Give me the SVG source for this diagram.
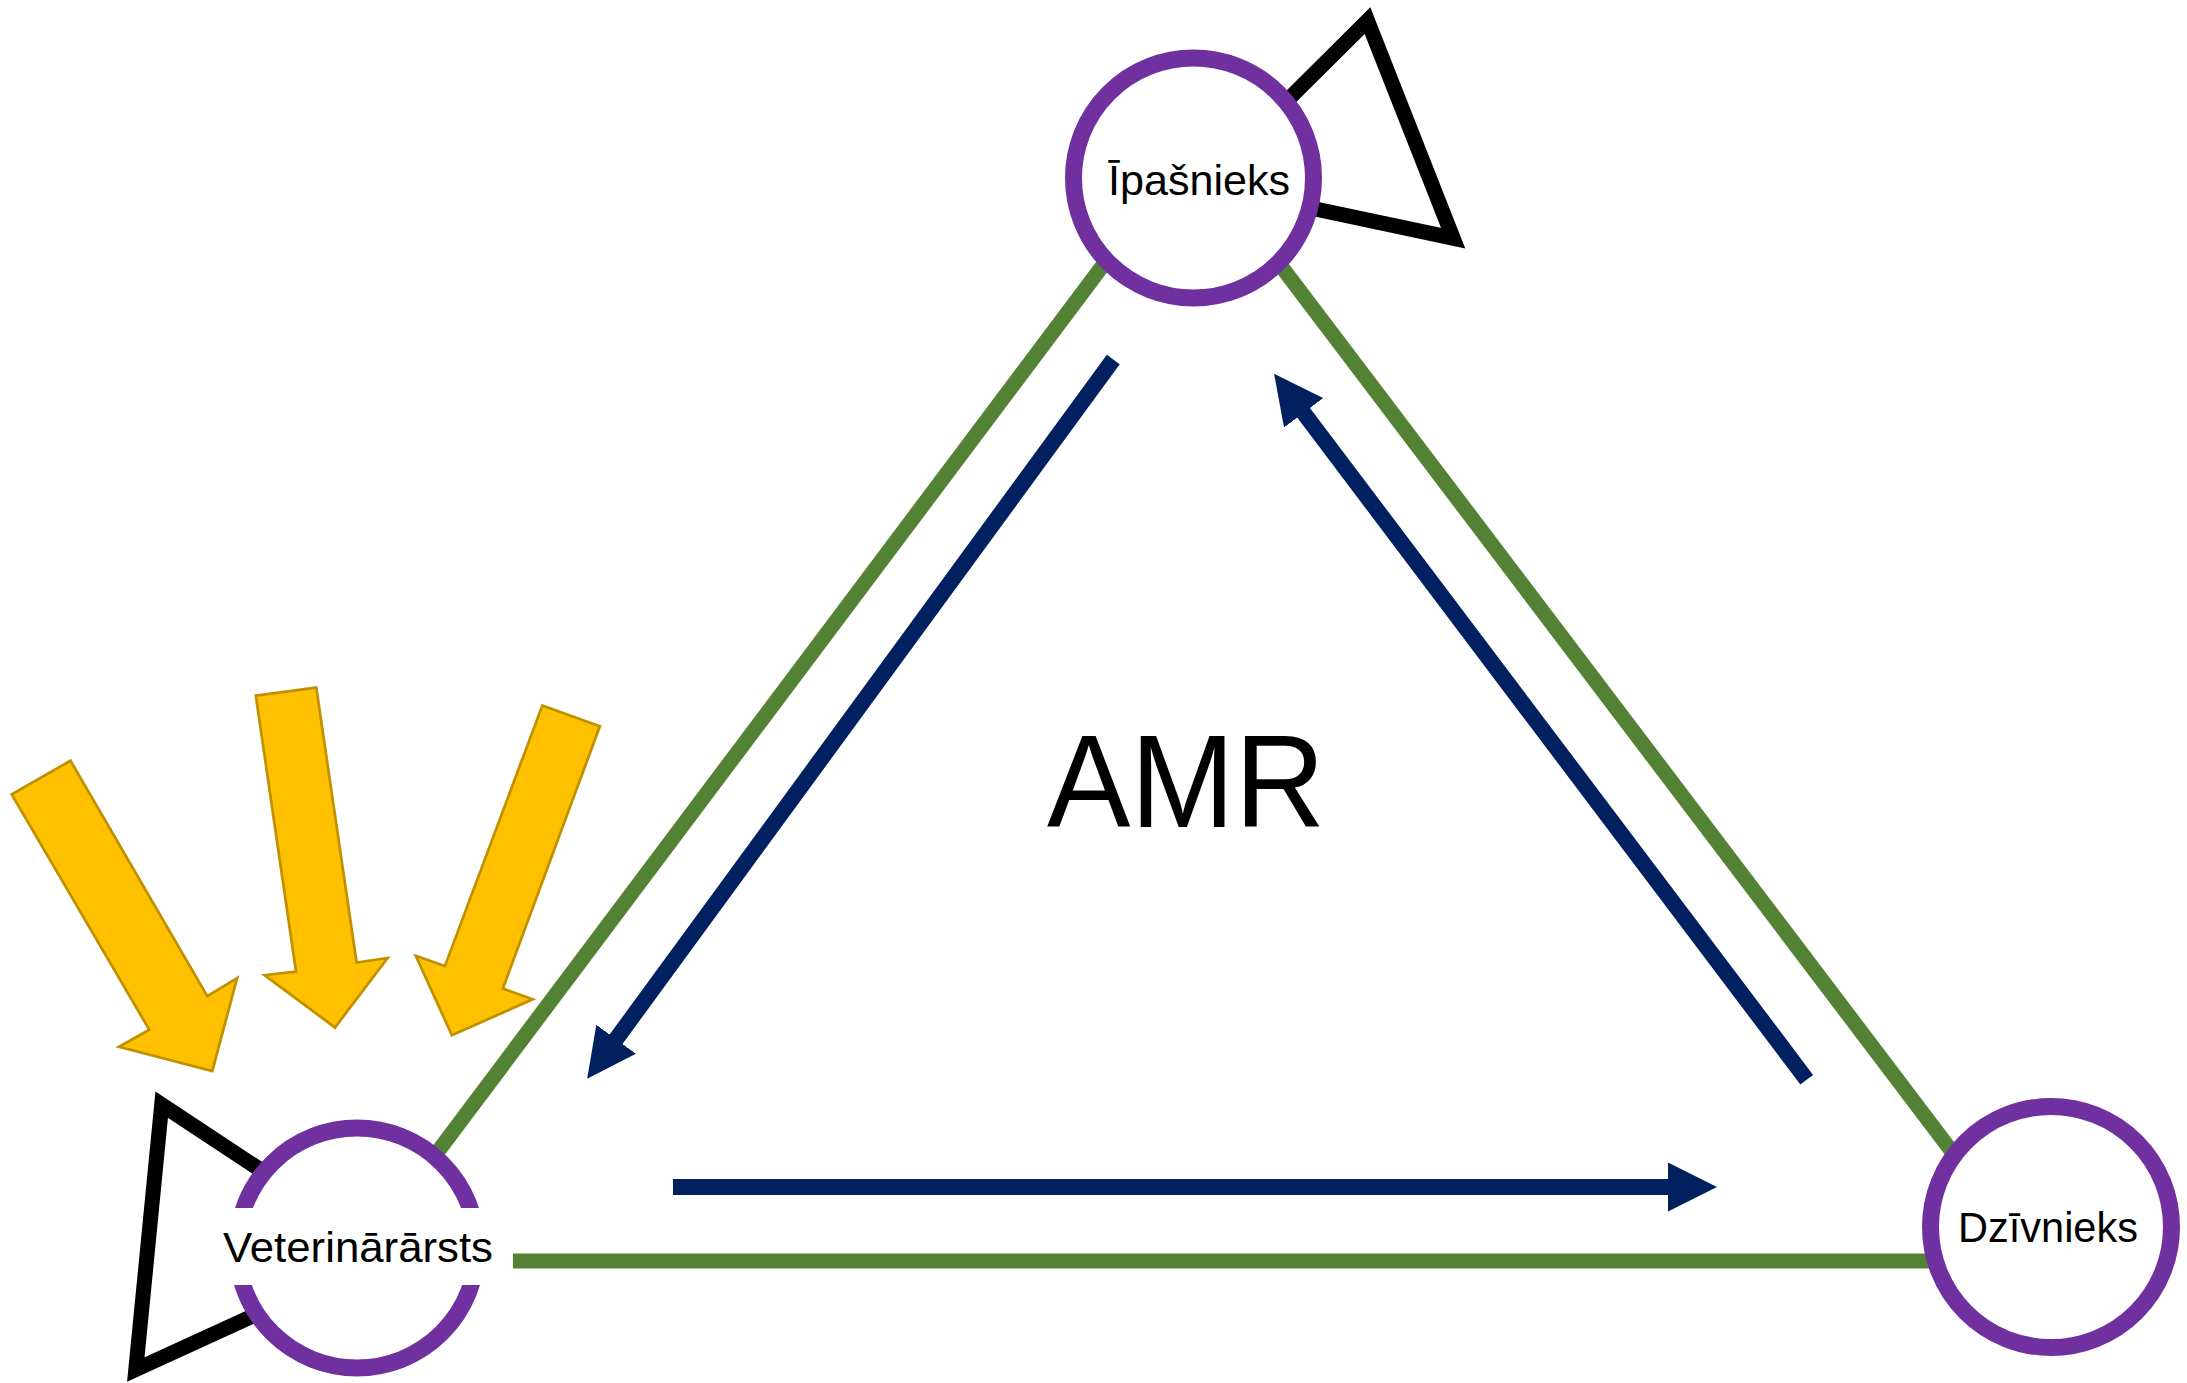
<svg xmlns="http://www.w3.org/2000/svg" width="2187" height="1383" viewBox="0 0 2187 1383">
<style>
.bg{fill:#ffffff}
.link{stroke:#548235;stroke-width:15;fill:none}
.flow{stroke:#002060;stroke-width:16;fill:none;marker-end:url(#head)}
.loop{fill:none;stroke:#000000;stroke-width:15;stroke-linejoin:miter;stroke-miterlimit:20}
.node{fill:#ffffff;stroke:#7030A0;stroke-width:17}
.lbl{font-family:"Liberation Sans",Arial,sans-serif;font-size:43px;fill:#000000;text-anchor:middle}
.big{font-family:"Liberation Sans",Arial,sans-serif;font-size:131px;fill:#000000;text-anchor:middle}
.infl{fill:#FFC000;stroke:#BF9000;stroke-width:2.7;stroke-linejoin:miter}
</style>
<defs>
<marker id="head" markerUnits="userSpaceOnUse" viewBox="0 0 49 49" markerWidth="49" markerHeight="49" refX="1" refY="24.5" orient="auto">
<path d="M0,0 L49,24.5 L0,49 Z" fill="#002060"/>
</marker>
</defs>
<rect class="bg" x="0" y="0" width="2187" height="1383"/>

<g id="connectors">
<line class="link" x1="1152" y1="200" x2="401.5" y2="1200"/>
<line class="link" x1="1231" y1="200" x2="1988.6" y2="1200"/>
<line class="link" x1="513" y1="1261" x2="1960" y2="1261"/>
<line class="flow" x1="1113.3" y1="359.5" x2="615.5" y2="1040"/>
<line class="flow" x1="1806.7" y1="1079.7" x2="1303" y2="412"/>
<line class="flow" x1="673" y1="1187" x2="1669" y2="1187"/>
</g>

<g id="influences">
<polygon class="infl" points="11.6,794.3 70.5,760.7 207.3,996.1 237.1,978.2 212.3,1071 119,1046.8 149.3,1029.8"/>
<polygon class="infl" points="255.8,695.7 316.3,687.6 356.6,962.5 387.6,958 335,1027.5 264.5,975.1 296,971.5"/>
<polygon class="infl" points="542.3,705.6 599.9,726.2 502.9,988.5 532.8,999.3 451.9,1035.2 415.8,955.8 444.9,966.1"/>
</g>

<g id="node-ipasnieks">
<polygon class="loop" points="1202,185 1367.5,20.7 1453.2,238.2"/>
<circle class="node" cx="1193.5" cy="178" r="120"/>
<text class="lbl" x="1199" y="195" textLength="182" lengthAdjust="spacingAndGlyphs">Īpašnieks</text>
</g>

<g id="node-veterinararsts">
<polygon class="loop" points="388,1254 161.7,1104.7 135.8,1369.6"/>
<circle class="node" cx="357" cy="1248" r="120"/>
<rect class="bg" x="205" y="1208" width="308" height="77"/>
<text class="lbl" x="358" y="1262" textLength="270" lengthAdjust="spacingAndGlyphs">Veterinārārsts</text>
</g>

<g id="node-dzivnieks">
<circle class="node" cx="2051" cy="1227" r="120.5"/>
<text class="lbl" x="2048" y="1242" textLength="180" lengthAdjust="spacingAndGlyphs">Dzīvnieks</text>
</g>

<g id="center-label">
<text class="big" x="1186" y="827" textLength="278" lengthAdjust="spacingAndGlyphs">AMR</text>
</g>
</svg>
